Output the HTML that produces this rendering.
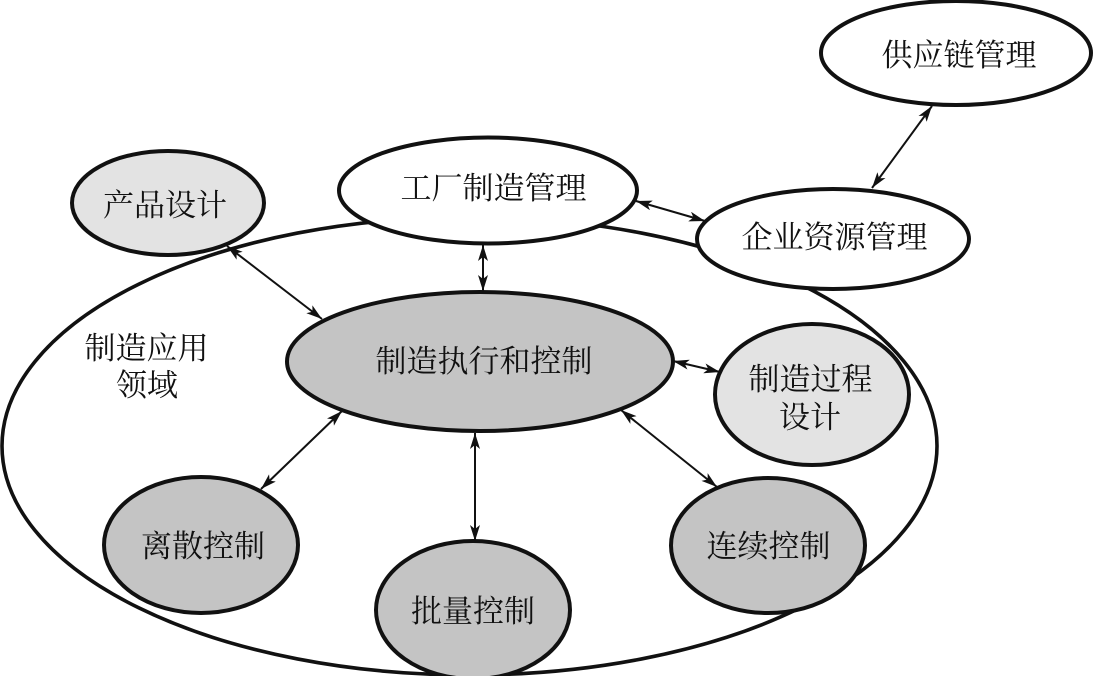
<!DOCTYPE html>
<html><head><meta charset="utf-8"><style>
html,body{margin:0;padding:0;background:#fff}
svg{display:block}
text{font-family:"Liberation Serif","Noto Serif CJK SC",serif;font-size:31px;fill:#111;text-anchor:middle}
</style></head><body>
<svg width="1093" height="676" viewBox="0 0 1093 676" xmlns="http://www.w3.org/2000/svg">
<defs>
<marker id="a" viewBox="0 0 16 10" refX="16" refY="5" markerWidth="16" markerHeight="10" markerUnits="userSpaceOnUse" orient="auto-start-reverse"><path d="M0 0L16 5L0 10L4 5Z" fill="#111"/></marker>
</defs>
<ellipse cx="469.5" cy="446" rx="467.5" ry="229" fill="#fff" stroke="#111" stroke-width="3.6"/>
<g stroke="#111" stroke-width="4">
<ellipse cx="956" cy="53" rx="135" ry="52" fill="#fff"/>
<ellipse cx="488" cy="190.5" rx="149" ry="53" fill="#fff"/>
<ellipse cx="833" cy="239" rx="136" ry="50" fill="#fff"/>
<ellipse cx="168" cy="203" rx="96" ry="52" fill="#e3e3e3"/>
<ellipse cx="480" cy="361.5" rx="193" ry="69.5" fill="#c4c4c4"/>
<ellipse cx="812" cy="394.5" rx="97" ry="70.5" fill="#e3e3e3"/>
<ellipse cx="201" cy="545" rx="97" ry="68" fill="#c4c4c4"/>
<ellipse cx="473" cy="610" rx="97" ry="69" fill="#c4c4c4"/>
<ellipse cx="768" cy="545.5" rx="97" ry="67.5" fill="#c4c4c4"/>
</g>
<g stroke="#111" stroke-width="2" fill="none">
<line x1="932" y1="106" x2="872" y2="188" marker-start="url(#a)" marker-end="url(#a)"/>
<line x1="636" y1="201" x2="705" y2="221" marker-start="url(#a)" marker-end="url(#a)"/>
<line x1="483" y1="245" x2="483" y2="291" marker-start="url(#a)" marker-end="url(#a)"/>
<line x1="227" y1="246" x2="322" y2="319" marker-start="url(#a)" marker-end="url(#a)"/>
<line x1="673" y1="361" x2="720" y2="372" marker-start="url(#a)" marker-end="url(#a)"/>
<line x1="342" y1="411" x2="261" y2="489" marker-start="url(#a)" marker-end="url(#a)"/>
<line x1="475" y1="433" x2="475" y2="541" marker-start="url(#a)" marker-end="url(#a)"/>
<line x1="621" y1="410" x2="717" y2="487" marker-start="url(#a)" marker-end="url(#a)"/>
</g>
<text x="959" y="66">供应链管理</text>
<text x="493.5" y="199">工厂制造管理</text>
<text x="834.5" y="248">企业资源管理</text>
<text x="165" y="216">产品设计</text>
<text x="484" y="372">制造执行和控制</text>
<text x="810.5" y="390">制造过程</text>
<text x="810" y="428">设计</text>
<text x="203" y="557">离散控制</text>
<text x="473" y="622">批量控制</text>
<text x="768.5" y="557">连续控制</text>
<text x="146.5" y="359">制造应用</text>
<text x="147" y="396">领域</text>
</svg>
</body></html>
